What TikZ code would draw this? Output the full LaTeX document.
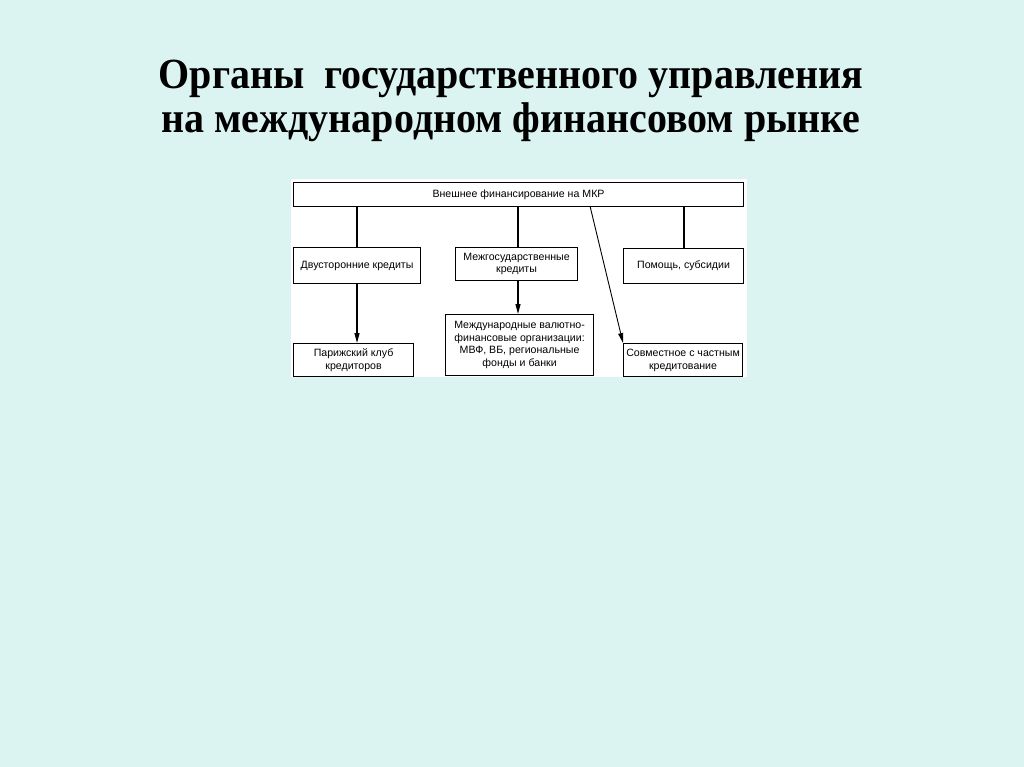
\documentclass[tikz,border=0pt]{standalone}
\usepackage{fontspec}
\setmainfont{Liberation Serif}
\newfontfamily\titlefont[FakeStretch=0.93]{Liberation Serif}
\newfontfamily\boxfont{Liberation Sans}
\usetikzlibrary{arrows.meta}
\definecolor{bgcol}{RGB}{220,244,241}
\tikzset{
  titletext/.style={font=\titlefont\bfseries\fontsize{43}{43}\selectfont, inner sep=0pt, anchor=base},
  boxnode/.style={draw=black, line width=1.1pt, fill=white, font=\boxfont\fontsize{10.6}{12.7}\selectfont,
    align=center, inner sep=0pt, anchor=north west},
  link/.style={line width=1.2pt, draw=black},
  arr/.style={link, -{Triangle[length=10pt,width=5pt]}}
}
\begin{document}
\begin{tikzpicture}[x=1pt,y=-1pt]
\fill[bgcol] (0,0) rectangle (1024,767);
\useasboundingbox (0,0) rectangle (1024,767);
\fill[white] (291,179) rectangle (747,377);
\node[titletext] (t1) at (511,89) {Органы\ \ государственного управления};
\node[titletext] (t2) at (511,133) {на международном финансовом рынке};

\node[boxnode, minimum width=450pt, minimum height=24pt] (top) at (293,182) {Внешнее финансирование на МКР};
\node[boxnode, minimum width=127pt, minimum height=36pt] (b1) at (293,247) {Двусторонние кредиты};
\node[boxnode, minimum width=122pt, minimum height=33pt] (b2) at (455,247) {Межгосударственные\\кредиты};
\node[boxnode, minimum width=120pt, minimum height=35pt] (b3) at (623,248) {Помощь, субсидии};
\node[boxnode, minimum width=120pt, minimum height=33pt] (c1) at (293,343) {Парижский клуб\\кредиторов};
\node[boxnode, minimum width=148pt, minimum height=61pt] (c2) at (445,314) {Международные валютно-\\финансовые организации:\\МВФ, ВБ, региональные\\фонды и банки};
\node[boxnode, minimum width=119pt, minimum height=33pt] (c3) at (623,343) {Совместное с частным\\кредитование};

\coordinate (s1) at (357,206);
\coordinate (s2) at (518,206);
\coordinate (s3) at (684,206);
\coordinate (s4) at (590,206);
\draw[link] (s1) -- (s1 |- b1.north);
\draw[link] (s2) -- (s2 |- b2.north);
\draw[link] (s3) -- (s3 |- b3.north);
\draw[arr] (s1 |- b1.south) -- (s1 |- c1.north);
\draw[arr] (s2 |- b2.south) -- (s2 |- c2.north);
\draw[arr, line width=0.9pt] (s4) -- (c3.north west);
\end{tikzpicture}
\end{document}
